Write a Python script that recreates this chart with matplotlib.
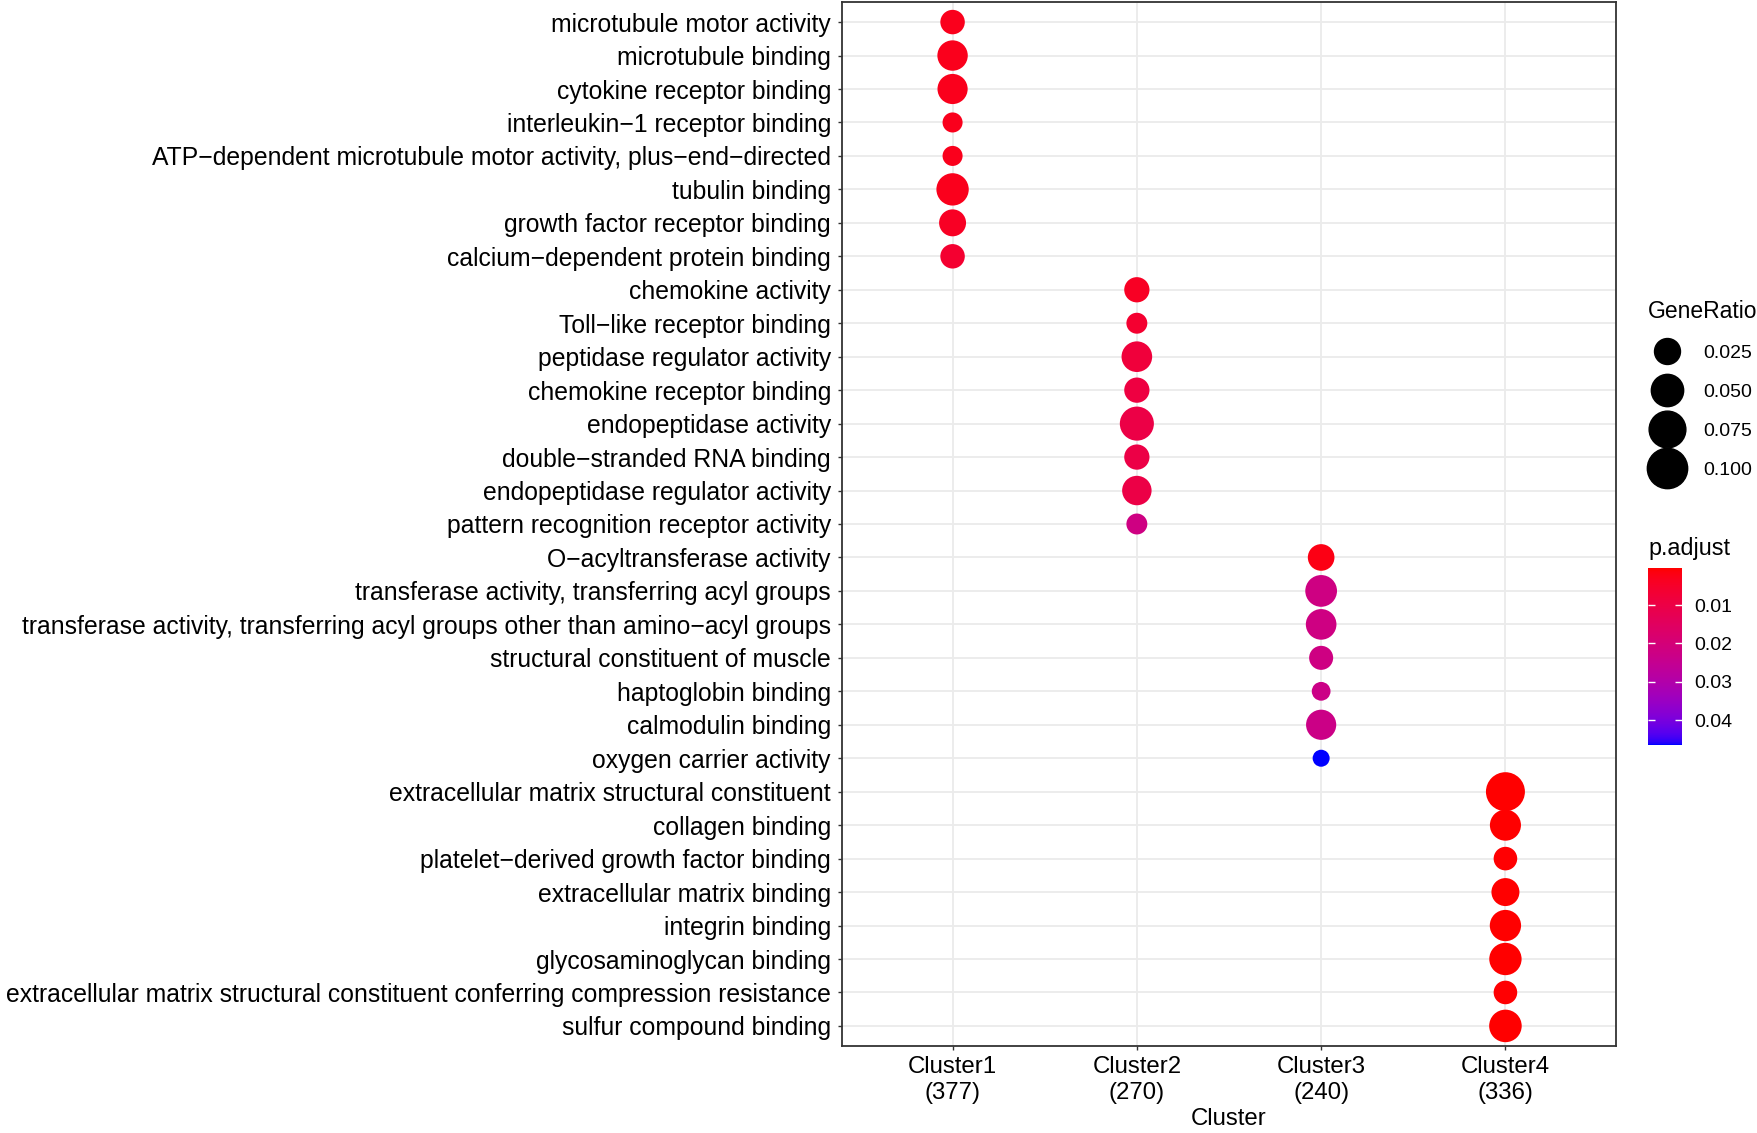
import numpy as np
import matplotlib
matplotlib.use("Agg")
import matplotlib.pyplot as plt
from matplotlib.colors import LinearSegmentedColormap, Normalize
from matplotlib.lines import Line2D

plt.rcParams['font.family'] = ['Liberation Sans', 'DejaVu Sans']

clusters = ["Cluster1", "Cluster2", "Cluster3", "Cluster4"]
cluster_sizes = [377, 270, 240, 336]

terms_c1 = ["microtubule motor activity", "microtubule binding", "cytokine receptor binding",
            "interleukin\u22121 receptor binding",
            "ATP\u2212dependent microtubule motor activity, plus\u2212end\u2212directed",
            "tubulin binding", "growth factor receptor binding",
            "calcium\u2212dependent protein binding"]
ratio_c1 = [0.021, 0.041, 0.040, 0.0135, 0.0135, 0.050, 0.028, 0.021]
padj_c1 = [0.003, 0.003, 0.003, 0.003, 0.003, 0.003, 0.004, 0.006]

terms_c2 = ["chemokine activity", "Toll\u2212like receptor binding", "peptidase regulator activity",
            "chemokine receptor binding", "endopeptidase activity", "double\u2212stranded RNA binding",
            "endopeptidase regulator activity", "pattern recognition receptor activity"]
ratio_c2 = [0.023, 0.0145, 0.042, 0.023, 0.059, 0.023, 0.037, 0.0145]
padj_c2 = [0.004, 0.006, 0.008, 0.009, 0.010, 0.010, 0.010, 0.022]

terms_c3 = ["O\u2212acyltransferase activity", "transferase activity, transferring acyl groups",
            "transferase activity, transferring acyl groups other than amino\u2212acyl groups",
            "structural constituent of muscle", "haptoglobin binding", "calmodulin binding",
            "oxygen carrier activity"]
ratio_c3 = [0.027, 0.047, 0.042, 0.020, 0.0125, 0.040, 0.012]
padj_c3 = [0.002, 0.022, 0.022, 0.022, 0.023, 0.023, 0.0465]

terms_c4 = ["extracellular matrix structural constituent", "collagen binding",
            "platelet\u2212derived growth factor binding", "extracellular matrix binding",
            "integrin binding", "glycosaminoglycan binding",
            "extracellular matrix structural constituent conferring compression resistance",
            "sulfur compound binding"]
ratio_c4 = [0.090, 0.044, 0.019, 0.0315, 0.045, 0.050, 0.019, 0.051]
padj_c4 = [0.0003, 0.0004, 0.0005, 0.0004, 0.0004, 0.0004, 0.0006, 0.0004]

size_breaks = [0.025, 0.050, 0.075, 0.100]
padj_breaks = [0.01, 0.02, 0.03, 0.04]
padj_limits = (0.0003, 0.0465)
ratio_limits = (0.012, 0.105)


def ratio_to_pt(r):
    # area-style size scale, diameter in pixels -> points (dpi 100)
    t = np.clip((np.asarray(r) - ratio_limits[0]) / (ratio_limits[1] - ratio_limits[0]), 0, 1)
    px = 17 + 24 * np.sqrt(t)
    return px * 72 / 100


# red -> blue gradient interpolated in Lab, like ggplot
WHITE = np.array([0.95047, 1.0, 1.08883])
M = np.array([[0.4124, 0.3576, 0.1805], [0.2126, 0.7152, 0.0722], [0.0193, 0.1192, 0.9505]])


def to_lab(c):
    c = np.asarray(c, float)
    lin = np.where(c <= 0.04045, c / 12.92, ((c + 0.055) / 1.055) ** 2.4)
    xyz = M @ lin / WHITE
    f = np.where(xyz > 0.008856, np.cbrt(xyz), 7.787 * xyz + 16 / 116)
    return np.array([116 * f[1] - 16, 500 * (f[0] - f[1]), 200 * (f[1] - f[2])])


def from_lab(lab):
    fy = (lab[0] + 16) / 116
    f = np.array([fy + lab[1] / 500, fy, fy - lab[2] / 200])
    xyz = np.where(f ** 3 > 0.008856, f ** 3, (f - 16 / 116) / 7.787) * WHITE
    lin = np.linalg.solve(M, xyz)
    lin = np.clip(lin, 0, None)
    c = np.where(lin <= 0.0031308, 12.92 * lin, 1.055 * lin ** (1 / 2.4) - 0.055)
    return np.clip(c, 0, 1)


lab_lo, lab_hi = to_lab([1, 0, 0]), to_lab([0, 0, 1])
grad = [from_lab(lab_lo + (lab_hi - lab_lo) * t) for t in np.linspace(0, 1, 256)]
cmap = LinearSegmentedColormap.from_list("redblue", grad)
norm = Normalize(*padj_limits)

terms = terms_c1 + terms_c2 + terms_c3 + terms_c4
ratios = ratio_c1 + ratio_c2 + ratio_c3 + ratio_c4
padjs = padj_c1 + padj_c2 + padj_c3 + padj_c4
xs = [0] * len(terms_c1) + [1] * len(terms_c2) + [2] * len(terms_c3) + [3] * len(terms_c4)
ys = list(range(len(terms)))

fig = plt.figure(figsize=(17.58, 11.33), dpi=100)
ax = fig.add_axes([842 / 1758, 1 - 1046 / 1133, 774 / 1758, 1044 / 1133])

ax.scatter(xs, ys, s=ratio_to_pt(ratios) ** 2, c=padjs, cmap=cmap, norm=norm,
           linewidths=0, zorder=3)

ax.set_xlim(-0.6, len(clusters) - 0.4)
ax.set_ylim(len(terms) - 0.4, -0.6)
ax.set_xticks(range(len(clusters)))
ax.set_xticklabels([f"{c}\n({n})" for c, n in zip(clusters, cluster_sizes)], fontsize=17.3,
                   linespacing=1.2)
ax.set_yticks(ys)
ax.set_yticklabels(terms, fontsize=17.8)
ax.set_xlabel("Cluster", fontsize=17.3, labelpad=3)
ax.grid(True, color="#EBEBEB", linewidth=1.3)
ax.set_axisbelow(True)
for sp in ax.spines.values():
    sp.set_color("#333333")
    sp.set_linewidth(1.3)
ax.tick_params(length=3, width=1, color="#333333", labelcolor="black")
ax.tick_params(axis="y", pad=5)
ax.tick_params(axis="x", pad=4.5)

# size legend
handles = [Line2D([], [], linestyle="none", marker="o", color="black",
                  markersize=ratio_to_pt(b)) for b in size_breaks]
fig.legend(handles, [f"{b:.3f}" for b in size_breaks], title="GeneRatio",
           loc="upper left", bbox_to_anchor=(1638 / 1758, 1 - 290 / 1133),
           frameon=False, fontsize=14, title_fontsize=16.5, alignment="left",
           labelspacing=1.1, handletextpad=0.85, borderpad=0, handlelength=2.0)

# colour bar
fig.text(1648 / 1758, 1 - 549 / 1133, "p.adjust", fontsize=16.8, va="center", ha="left")
cax = fig.add_axes([1648 / 1758, 1 - 745 / 1133, 34 / 1758, 177 / 1133])
sm = plt.cm.ScalarMappable(norm=norm, cmap=cmap)
cb = fig.colorbar(sm, cax=cax, ticks=padj_breaks)
cb.outline.set_visible(False)
cax.invert_yaxis()
cax.tick_params(direction="in", length=5, width=1, color="white", left=True, right=True,
                labelsize=14, pad=9)

fig.savefig("out.png", dpi=100)
